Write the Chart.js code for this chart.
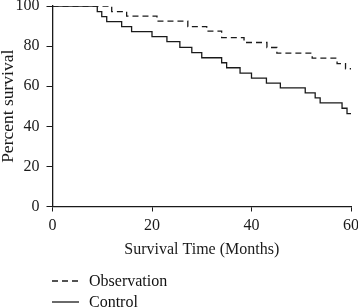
<!DOCTYPE html>
<html>
<head>
<meta charset="utf-8">
<script src="https://cdn.jsdelivr.net/npm/chart.js@4"></script>
<style>
  body { margin: 0; background: #fff; }
  #wrap { position: relative; width: 358px; height: 307px; }
  #legend { position: absolute; left: 52px; top: 271px; font: 16px "Liberation Serif", serif; color: #111; }
  .row { display: flex; align-items: center; height: 20.5px; }
  .row svg { margin-right: 10px; }
</style>
</head>
<body>
<div id="wrap">
  <canvas id="km" width="358" height="307"></canvas>
  <div id="legend"></div>
</div>
<script>
// Kaplan-Meier steps: months and survival (%) after each drop
const controlMonths = [0, 9.0, 9.9, 10.9, 13.9, 15.9, 20.0, 23.0, 25.6, 28.0, 30.0, 34.0, 35.0, 37.7, 40.0, 43.0, 45.8, 50.8, 52.8, 53.8, 58.2, 59.2, 60];
const controlSurv   = [100, 97.2, 94.7, 92.2, 89.7, 87.2, 84.7, 82.2, 79.4, 76.7, 74.2, 71.7, 69.2, 66.5, 64.0, 61.5, 59.2, 56.7, 54.2, 51.7, 49.0, 46.3, 46.3];

const obsMonths = [0, 11.9, 14.9, 21.0, 27.2, 31.0, 34.0, 38.5, 43.1, 45.1, 52.2, 57.2, 58.9, 60];
const obsSurv   = [100, 97.2, 95.0, 92.5, 89.7, 87.5, 84.2, 81.8, 79.3, 76.5, 74.0, 71.3, 68.7, 68.7];

const xTicks = [0, 20, 40, 60];
const yTicks = [0, 20, 40, 60, 80, 100];
const seriesNames = ['Observation', 'Control'];

const serif = '"Liberation Serif", "Times New Roman", serif';
const ink = '#1a1a1a';

function toPoints(xs, ys) {
    return xs.map((x, i) => ({ x: x, y: ys[i] }));
}

const chart = new Chart(document.getElementById('km'), {
    type: 'line',
    data: {
        datasets: [
            {
                label: seriesNames[0],
                data: toPoints(obsMonths, obsSurv),
                stepped: true,
                borderColor: ink,
                borderWidth: 1.3,
                borderDash: [6, 4],
                pointRadius: 0,
                fill: false
            },
            {
                label: seriesNames[1],
                data: toPoints(controlMonths, controlSurv),
                stepped: true,
                borderColor: ink,
                borderWidth: 1.3,
                pointRadius: 0,
                fill: false
            }
        ]
    },
    options: {
        responsive: false,
        animation: false,
        layout: { padding: { left: 0, right: 7, top: 6, bottom: 48 } },
        plugins: { legend: { display: false }, tooltip: { enabled: false } },
        scales: {
            x: {
                type: 'linear',
                min: 0, max: 60,
                afterBuildTicks: s => { s.ticks = xTicks.map(v => ({ value: v })); },
                // fixed axis size, and no extra room for the end labels
                afterFit: s => { s.height = 52.5; s.paddingLeft = 0; s.paddingRight = 0; },
                grid: { drawOnChartArea: false, drawTicks: true, tickLength: 5, color: ink },
                border: { display: true, color: ink, width: 1.3 },
                ticks: { color: ink, padding: 5, font: { family: serif, size: 16 }, maxRotation: 0 },
                title: { display: true, text: 'Survival Time (Months)', color: ink, padding: 0, font: { family: serif, size: 16, lineHeight: 1.2 } }
            },
            y: {
                type: 'linear',
                min: 0, max: 100,
                afterBuildTicks: s => { s.ticks = yTicks.map(v => ({ value: v })); },
                afterFit: s => { s.width = 52.5; s.paddingTop = 0; s.paddingBottom = 0; },
                grid: { drawOnChartArea: false, drawTicks: true, tickLength: 6, color: ink },
                border: { display: true, color: ink, width: 1.3 },
                ticks: { color: ink, padding: 7, font: { family: serif, size: 16 } },
                title: { display: true, text: 'Percent survival', color: ink, padding: 0, font: { family: serif, size: 17.5, lineHeight: 0.95 } }
            }
        }
    }
});

// legend stacked under the plot, one series per row
const legend = document.getElementById('legend');
chart.data.datasets.forEach(ds => {
    const row = document.createElement('div');
    row.className = 'row';
    const dash = ds.borderDash ? 'stroke-dasharray="6 4"' : '';
    row.innerHTML = '<svg width="27" height="4"><line x1="0" y1="2" x2="27" y2="2" stroke="' + ink + '" stroke-width="1.3" ' + dash + '/></svg><span>' + ds.label + '</span>';
    legend.appendChild(row);
});
</script>
</body>
</html>
